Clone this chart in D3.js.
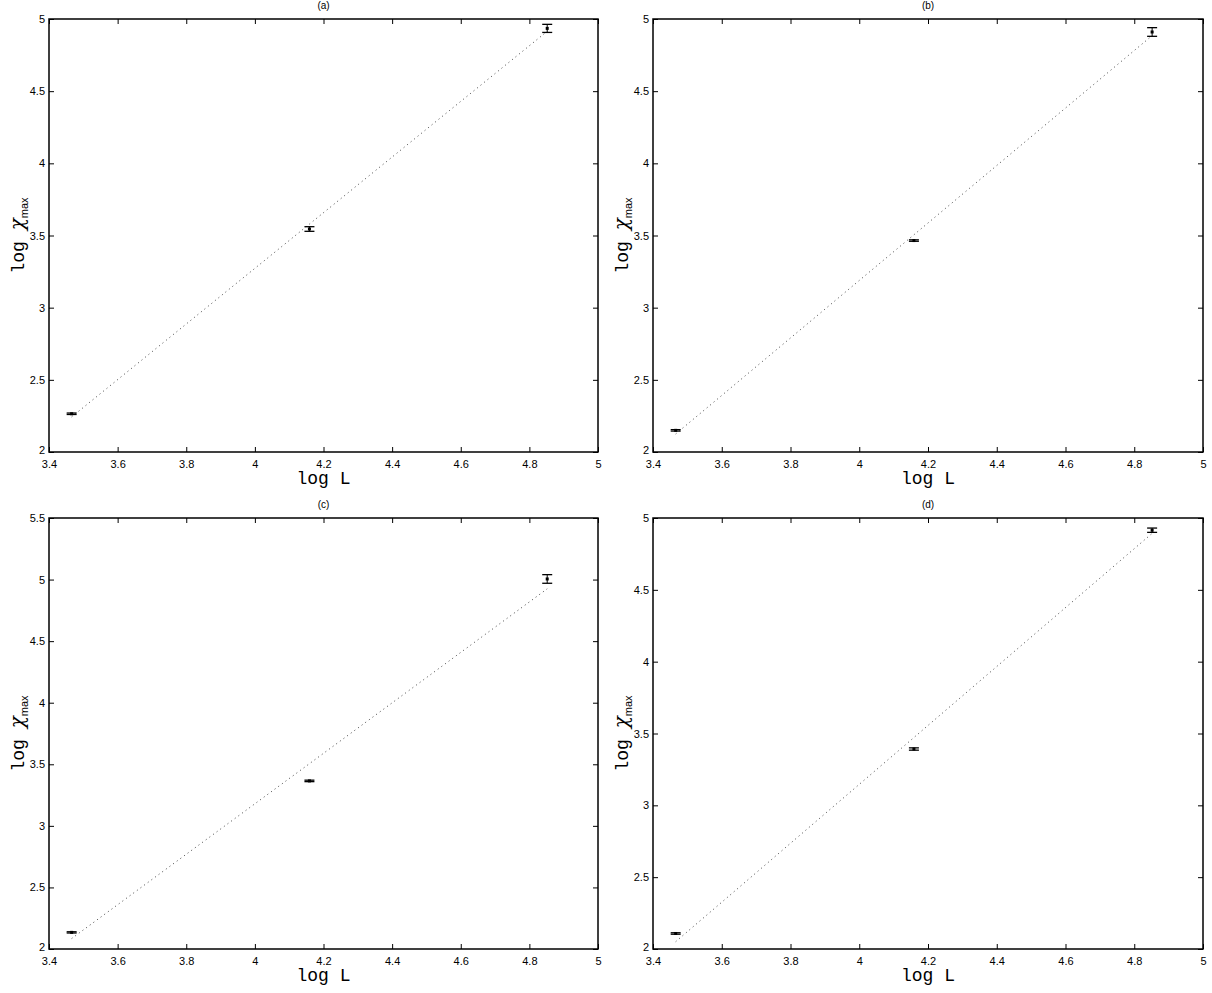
<!DOCTYPE html>
<html>
<head>
<meta charset="utf-8">
<script src="https://cdn.jsdelivr.net/npm/d3@7"></script>
<style>
  body { margin: 0; background: #fff; }
  svg text { fill: #000; }
  .tick-lbl { font-family: "Liberation Sans", Arial, sans-serif; font-size: 11px; }
  .ttl { font-family: "Liberation Sans", Arial, sans-serif; font-size: 10px; }
  .ax-lbl { font-family: "Liberation Mono", "Courier New", monospace; font-size: 18px; }
</style>
</head>
<body>
<svg id="chart" width="1212" height="993"></svg>
<script>
// ---- data ----
const logL = [3.466, 4.159, 4.852];          // log 32, log 64, log 128
const xTicks = [3.4, 3.6, 3.8, 4, 4.2, 4.4, 4.6, 4.8, 5];

const chiA = [2.265, 3.545, 4.935];
const errA = [0.005, 0.016, 0.028];
const fitA = [2.243, 4.915];

const chiB = [2.150, 3.465, 4.910];
const errB = [0.005, 0.005, 0.030];
const fitB = [2.125, 4.885];

const chiC = [2.135, 3.365, 5.005];
const errC = [0.005, 0.006, 0.035];
const fitC = [2.085, 4.925];

const chiD = [2.108, 3.392, 4.915];
const errD = [0.005, 0.008, 0.015];
const fitD = [2.051, 4.893];

const yTicks4 = [2, 2.5, 3, 3.5, 4, 4.5, 5];
const yTicks55 = [2, 2.5, 3, 3.5, 4, 4.5, 5, 5.5];

const titles = ['(a)', '(b)', '(c)', '(d)'];

// panel boxes in page pixels
const panels = [
  { t: titles[0], x: 49,  y: 19,  w: 549, h: 433, yDom: [2, 5],   yt: yTicks4,  chi: chiA, err: errA, fit: fitA },
  { t: titles[1], x: 653, y: 19,  w: 550, h: 433, yDom: [2, 5],   yt: yTicks4,  chi: chiB, err: errB, fit: fitB },
  { t: titles[2], x: 49,  y: 518, w: 549, h: 431, yDom: [2, 5.5], yt: yTicks55, chi: chiC, err: errC, fit: fitC },
  { t: titles[3], x: 653, y: 518, w: 550, h: 431, yDom: [2, 5],   yt: yTicks4,  chi: chiD, err: errD, fit: fitD },
];

const svg = d3.select('#chart');
const fmt = d => String(d);

panels.forEach(p => {
  const g = svg.append('g').attr('transform', `translate(${p.x},${p.y})`);
  const x = d3.scaleLinear().domain([3.4, 5]).range([0, p.w]);
  const y = d3.scaleLinear().domain(p.yDom).range([p.h, 0]);

  // axes: labels on bottom/left, inward ticks on all four sides
  const axB = g.append('g').attr('transform', `translate(0,${p.h})`)
    .call(d3.axisBottom(x).tickValues(xTicks).tickFormat(fmt).tickSizeInner(-5).tickSizeOuter(0).tickPadding(8));
  const axL = g.append('g')
    .call(d3.axisLeft(y).tickValues(p.yt).tickFormat(fmt).tickSizeInner(-5).tickSizeOuter(0).tickPadding(4));
  g.append('g').call(d3.axisTop(x).tickValues(xTicks).tickFormat('').tickSizeInner(-5).tickSizeOuter(0));
  g.append('g').attr('transform', `translate(${p.w},0)`)
    .call(d3.axisRight(y).tickValues(p.yt).tickFormat('').tickSizeInner(-5).tickSizeOuter(0));
  g.selectAll('.domain').remove();
  g.selectAll('.tick line').attr('stroke', '#000').attr('stroke-width', 1);
  [axB, axL].forEach(a => a.selectAll('.tick text').attr('class', 'tick-lbl').attr('font-size', null).attr('font-family', null));
  // the lowest y label sits a touch higher so it clears the x labels
  axL.selectAll('.tick text').filter(d => d === 2).attr('dy', '0.1em');

  // box
  g.append('rect').attr('width', p.w).attr('height', p.h)
    .attr('fill', 'none').attr('stroke', '#000').attr('stroke-width', 1.5);

  // dotted fit line
  g.append('line')
    .attr('x1', x(logL[0])).attr('y1', y(p.fit[0]))
    .attr('x2', x(logL[2])).attr('y2', y(p.fit[1]))
    .attr('stroke', '#444').attr('stroke-width', 1).attr('stroke-dasharray', '1,3.5');

  // error bars
  const eb = g.selectAll('.eb').data(logL.map((v, i) => ({ lx: v, c: p.chi[i], e: p.err[i] })))
    .enter().append('g').attr('class', 'eb');
  eb.append('line')
    .attr('x1', d => x(d.lx)).attr('x2', d => x(d.lx))
    .attr('y1', d => y(d.c - d.e)).attr('y2', d => y(d.c + d.e))
    .attr('stroke', '#000').attr('stroke-width', 1);
  [-1, 1].forEach(s => {
    eb.append('line')
      .attr('x1', d => x(d.lx) - 5).attr('x2', d => x(d.lx) + 5)
      .attr('y1', d => y(d.c + s * d.e)).attr('y2', d => y(d.c + s * d.e))
      .attr('stroke', '#000').attr('stroke-width', 1.3);
  });
  eb.append('rect')
    .attr('x', d => x(d.lx) - 1.5).attr('y', d => y(d.c) - 1.5)
    .attr('width', 3).attr('height', 3).attr('fill', '#000');

  // title
  g.append('text').attr('class', 'ttl').attr('x', p.w / 2).attr('y', -10)
    .attr('text-anchor', 'middle').text(p.t);

  // x label
  g.append('text').attr('class', 'ax-lbl').attr('x', p.w / 2).attr('y', p.h + 32)
    .attr('text-anchor', 'middle').text('log L');

  // y label
  const yl = g.append('text').attr('transform', `translate(-25,${p.h / 2}) rotate(-90)`)
    .attr('text-anchor', 'middle');
  yl.append('tspan').attr('class', 'ax-lbl').text('log ');
  yl.append('tspan').attr('font-family', '"DejaVu Serif", serif').attr('font-size', 20).attr('font-style', 'italic').text('χ');
  yl.append('tspan').attr('font-family', '"Liberation Sans", Arial, sans-serif').attr('font-size', 11).attr('dy', 4).text('max');
});
</script>
</body>
</html>
